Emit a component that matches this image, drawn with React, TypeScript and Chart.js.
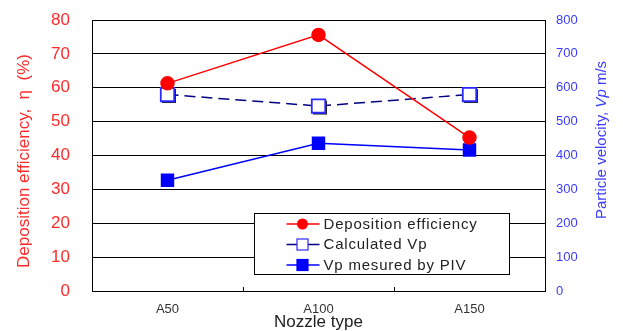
import React, { useEffect, useRef } from "react";
import { Chart, registerables } from "chart.js";

Chart.register(...registerables);

const categories = ["A50", "A100", "A150"];
const depositionEfficiency = [61.3, 75.6, 45.3];
const calculatedVp = [580, 546, 580];
const measuredVp = [327, 436, 416];
const seriesLabels = ["Deposition efficiency", "Calculated Vp", "Vp mesured by PIV"];
const leftAxis = { min: 0, max: 80, step: 10 };
const rightAxis = { min: 0, max: 800, step: 100 };
const FONT = "'Liberation Sans', Arial, sans-serif";

const decorPlugin = {
  id: "decor",
  beforeDatasetDraw(chart: any, args: any) {
    if (args.index !== 1) return;
    const ctx = chart.ctx as CanvasRenderingContext2D;
    ctx.save();
    ctx.fillStyle = "#222";
    for (const el of args.meta.data) {
      ctx.fillRect(el.x - 5.5, el.y - 5.5, 14, 14);
    }
    ctx.restore();
  },
  afterDraw(chart: any) {
    const ctx = chart.ctx as CanvasRenderingContext2D;
    const area = chart.chartArea;
    const xs = chart.scales.x;
    ctx.save();
    // inward tick marks at category boundaries
    ctx.strokeStyle = "#000";
    ctx.lineWidth = 1;
    for (let i = 1; i < categories.length; i++) {
      const px = Math.round((xs.getPixelForValue(i - 1) + xs.getPixelForValue(i)) / 2) + 0.5;
      ctx.beginPath();
      ctx.moveTo(px, area.bottom);
      ctx.lineTo(px, area.bottom - 4);
      ctx.stroke();
    }
    // left title
    ctx.save();
    ctx.translate(24, 161);
    ctx.rotate(-Math.PI / 2);
    ctx.fillStyle = "#ff2a2a";
    ctx.font = `17px ${FONT}`;
    ctx.textAlign = "center";
    ctx.textBaseline = "middle";
    ctx.fillText("Deposition efficiency,  η  (%)", 0, 0);
    ctx.restore();
    // right title with italic Vp
    ctx.save();
    ctx.translate(602, 140);
    ctx.rotate(-Math.PI / 2);
    ctx.fillStyle = "#3b3bff";
    ctx.textBaseline = "middle";
    const parts: [string, string][] = [
      ["Particle velocity, ", `15px ${FONT}`],
      ["Vp", `italic 15px ${FONT}`],
      [" m/s", `15px ${FONT}`],
    ];
    let total = 0;
    for (const [t, f] of parts) {
      ctx.font = f;
      total += ctx.measureText(t).width;
    }
    let cx = -total / 2;
    ctx.textAlign = "left";
    for (const [t, f] of parts) {
      ctx.font = f;
      ctx.fillText(t, cx, 0);
      cx += ctx.measureText(t).width;
    }
    ctx.restore();
    // x title
    ctx.fillStyle = "#222";
    ctx.font = `17px ${FONT}`;
    ctx.textAlign = "center";
    ctx.textBaseline = "middle";
    ctx.fillText("Nozzle type", (area.left + area.right) / 2, 322);

    // legend box
    const bx = Math.round(area.left + 162) + 0.5;
    const by = Math.round(area.top + 193) + 0.5;
    const bw = 255;
    const bh = 61;
    ctx.fillStyle = "#fff";
    ctx.fillRect(bx, by, bw, bh);
    ctx.strokeStyle = "#000";
    ctx.lineWidth = 1;
    ctx.strokeRect(bx, by, bw, bh);
    const rowsY = [by + 10.5, by + 31, by + 51.5];
    chart.data.datasets.forEach((ds: any, i: number) => {
      const y = rowsY[i];
      ctx.strokeStyle = ds.legendLine || ds.borderColor;
      ctx.lineWidth = 1.5;
      ctx.setLineDash([]);
      ctx.beginPath();
      ctx.moveTo(bx + 32, y);
      ctx.lineTo(bx + 65, y);
      ctx.stroke();
      const mx = bx + 48;
      if (ds.pointStyle === "circle") {
        ctx.fillStyle = ds.pointBackgroundColor;
        ctx.beginPath();
        ctx.arc(mx, y, 5.5, 0, Math.PI * 2);
        ctx.fill();
      } else {
        ctx.fillStyle = ds.pointBackgroundColor;
        ctx.fillRect(mx - 5.5, y - 5.5, 11, 11);
        ctx.strokeStyle = ds.pointBorderColor;
        ctx.lineWidth = 1.2;
        ctx.strokeRect(mx - 5.5, y - 5.5, 11, 11);
      }
      ctx.fillStyle = "#222";
      ctx.font = `15px ${FONT}`;
      (ctx as any).letterSpacing = "0.8px";
      ctx.textAlign = "left";
      ctx.textBaseline = "middle";
      ctx.fillText(ds.label, bx + 69, y + 0.5);
      (ctx as any).letterSpacing = "0px";
    });
    ctx.restore();
  },
};

export default function App() {
  const ref = useRef<HTMLCanvasElement>(null);
  useEffect(() => {
    document.body.style.margin = "0";
    const chart = new Chart(ref.current!, {
      type: "line",
      data: {
        labels: categories,
        datasets: [
          {
            label: seriesLabels[0],
            data: depositionEfficiency,
            yAxisID: "y",
            borderColor: "#ff0000",
            backgroundColor: "#ff0000",
            pointBackgroundColor: "#ff0000",
            pointBorderColor: "#ff0000",
            pointStyle: "circle",
            pointRadius: 6.5,
            borderWidth: 1.5,
          } as any,
          {
            label: seriesLabels[1],
            data: calculatedVp,
            yAxisID: "y1",
            borderColor: "#000080",
            legendLine: "#000080",
            borderDash: [11, 6],
            borderWidth: 1.5,
            pointStyle: "rect",
            pointRadius: 9.5,
            pointBackgroundColor: "#ffffff",
            pointBorderColor: "#2a2aff",
            pointBorderWidth: 1.8,
          } as any,
          {
            label: seriesLabels[2],
            data: measuredVp,
            yAxisID: "y1",
            borderColor: "#0000ff",
            borderWidth: 1.5,
            pointStyle: "rect",
            pointRadius: 9.5,
            pointBackgroundColor: "#0000ff",
            pointBorderColor: "#0000ff",
            pointBorderWidth: 0,
          } as any,
        ],
      },
      options: {
        responsive: false,
        animation: false,
        layout: { padding: { top: 20, left: 0, right: 0, bottom: 0 } },
        plugins: { legend: { display: false }, tooltip: { enabled: false } },
        scales: {
          x: {
            type: "category",
            offset: true,
            grid: { display: false },
            border: { display: true, color: "#000", width: 1 },
            ticks: { color: "#333", font: { size: 13, family: FONT }, padding: 3 },
            afterFit: (s: any) => {
              s.height = 40;
            },
          },
          y: {
            position: "left",
            min: leftAxis.min,
            max: leftAxis.max,
            ticks: { stepSize: leftAxis.step, color: "#ff2a2a", font: { size: 17, family: FONT }, padding: 0 },
            grid: { color: "#000", lineWidth: 1, drawTicks: true, tickLength: 22, tickColor: "rgba(0,0,0,0)" },
            border: { display: true, color: "#000", width: 1 },
            afterFit: (s: any) => {
              s.width = 92;
            },
          },
          y1: {
            position: "right",
            min: rightAxis.min,
            max: rightAxis.max,
            ticks: { stepSize: rightAxis.step, color: "#3b3bff", font: { size: 13, family: FONT }, padding: 0 },
            grid: { drawOnChartArea: false, drawTicks: true, tickLength: 11, tickColor: "rgba(0,0,0,0)" },
            border: { display: true, color: "#000", width: 1 },
            afterFit: (s: any) => {
              s.width = 78;
            },
          },
        },
      } as any,
      plugins: [decorPlugin],
    });
    return () => chart.destroy();
  }, []);
  return (
    <div style={{ position: "absolute", left: 0, top: 0, width: 623, height: 331, background: "#fff" }}>
      <canvas ref={ref} width={623} height={331} />
    </div>
  );
}
